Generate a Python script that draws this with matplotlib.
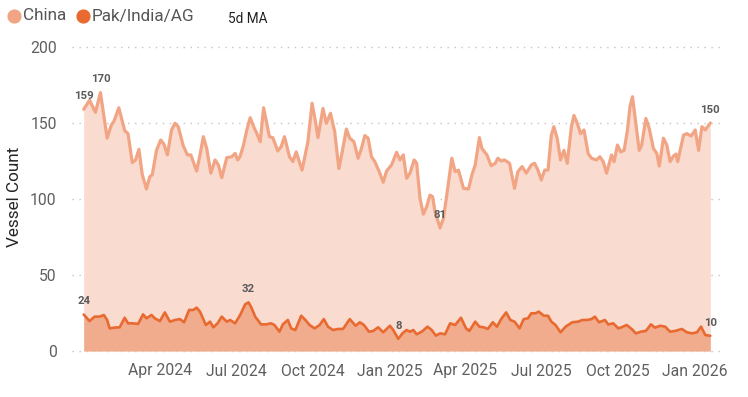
import matplotlib
matplotlib.use("Agg")
import matplotlib.pyplot as plt
from matplotlib.lines import Line2D
import pandas as pd
import numpy as np

plt.rcParams['font.family'] = ['Roboto', 'DejaVu Sans']

start_date = "2024-01-01"

china_days = [0, 7, 14, 20, 28, 33, 36, 42, 49, 53, 58, 62, 66, 70, 75, 79, 82, 87, 92, 96,
              100, 105, 109, 113, 119, 124, 128, 135, 139, 143, 147, 152, 157, 161, 165, 171,
              177, 181, 184, 187, 191, 195, 199, 204, 206, 211, 215, 222, 226, 232, 236, 240,
              246, 250, 254, 261, 268, 273, 277, 280, 286, 290, 295, 300, 305, 309, 314, 318,
              323, 328, 332, 336, 340, 344, 348, 354, 358, 362, 368, 374, 378, 382, 386, 390,
              395, 398, 402, 406, 410, 414, 417, 420, 426, 430, 434, 440, 444, 448, 454, 460,
              464, 468, 473, 476, 482, 487, 492, 495, 499, 503, 509, 515, 519, 524, 529, 535,
              539, 543, 547, 551, 555, 559, 562, 566, 570, 574, 578, 583, 586, 590, 594, 598,
              603, 607, 613, 617, 621, 625, 631, 634, 638, 642, 646, 650, 653, 656, 659, 664,
              667, 672, 676, 681, 685, 688, 693, 697, 701, 705, 708, 710, 717, 721, 726, 731,
              735, 739, 743, 749]
china_vals = [159, 165, 157, 170, 140, 148.7, 151, 160, 145, 143, 124, 125.7, 132.7, 116, 106.6,
              114.7, 116, 132, 138.8, 136, 129, 145.4, 149.8, 147.6, 135, 129, 129, 118.4, 129,
              141, 133.3, 117, 125.7, 122.4, 114, 127.2, 127.8, 130, 125.7, 128, 135.5, 145.4,
              153.5, 146.5, 144.3, 137.7, 160, 141, 140.4, 131.6, 134.4, 141, 127.8, 124.6, 131,
              119, 137.7, 163, 151, 140.4, 159.6, 149.8, 156.4, 144.3, 120, 131, 146, 140, 137.7,
              126.8, 133.3, 141.7, 140, 127.8, 124.6, 117, 111, 118.4, 122.4, 130.7, 125.7, 129,
              113.6, 117, 125.7, 123.5, 100.4, 90, 95, 102.6, 101.5, 91.6, 81, 87.3, 102.6, 126.8,
              118, 119, 107, 106.6, 115.8, 122.4, 140.4, 133.3, 129, 121.9, 123.5, 126.8, 125,
              125.7, 123.5, 107, 118, 121.3, 117, 122.4, 123.5, 119, 112.5, 119, 119, 142, 147.6,
              140, 125.7, 132, 123.5, 147.6, 155, 149.8, 143, 145.4, 130, 126.8, 125.7, 127.8,
              124.6, 117, 129, 124.6, 135.5, 131, 132, 145.4, 160.7, 167.3, 154, 132, 135.5, 153,
              146.5, 133.3, 130, 121.7, 140, 135.5, 124.6, 128.3, 129.6, 124.6, 142, 143, 141.4,
              145.4, 132, 147.6, 145.4, 150]

pak_days = [0, 7, 13, 19, 24, 28, 31, 37, 43, 49, 53, 59, 65, 71, 75, 81, 85, 91, 97, 103,
            109, 115, 120, 126, 131, 135, 139, 146, 151, 155, 160, 165, 171, 175, 181, 187, 193,
            197, 200, 205, 212, 218, 224, 228, 234, 238, 244, 248, 253, 260, 265, 270, 276, 282,
            287, 292, 298, 304, 310, 318, 325, 330, 335, 341, 346, 352, 358, 366, 370, 376, 381,
            386, 390, 394, 398, 404, 411, 416, 421, 426, 432, 438, 444, 451, 457, 461, 468, 473,
            478, 483, 489, 494, 499, 505, 510, 515, 521, 526, 531, 535, 540, 544, 550, 555, 559,
            564, 570, 576, 584, 591, 596, 602, 607, 611, 616, 623, 627, 633, 639, 643, 649, 655,
            660, 666, 672, 678, 683, 689, 695, 701, 707, 715, 721, 727, 733, 738, 743, 749]
pak_vals = [24, 19.7, 22.6, 22.6, 23.7, 20.4, 14.9, 15.4, 15.6, 21.9, 18.2, 18.2, 17.8, 24.1,
            21.5, 23.7, 21.5, 19.7, 25.4, 19.3, 20.4, 21, 18.9, 27, 27, 28.5, 25.9, 17.1, 19.3,
            15.6, 18.2, 22.6, 19.3, 20.4, 18.2, 23.7, 30.7, 32, 29.1, 22.6, 17.5, 17.5, 18.2,
            17.1, 12.7, 17.5, 20.4, 14.9, 13.8, 23.2, 20.4, 17.1, 14.9, 17.1, 21, 16, 13.8, 14.5,
            14.5, 21, 16.6, 18.9, 17.1, 12.7, 13.2, 15.6, 12.3, 16.6, 13.8, 8, 11.6, 13.8, 12.7,
            13.8, 11, 12.7, 16, 13.8, 10.1, 11.6, 11, 18.2, 17.1, 21.9, 14.9, 13.2, 19.3, 16,
            15.6, 14.5, 18.9, 16, 21, 25.4, 20.4, 19.3, 14.9, 21, 21.5, 24.8, 24.8, 25.9, 23.2,
            23.2, 19.3, 17.1, 12.3, 16, 18.9, 19.3, 20.4, 20.4, 21, 22.6, 18.9, 20.4, 17.5, 18.2,
            14.9, 15.6, 17.1, 14.5, 11.6, 12.7, 13.2, 17.5, 15.4, 16.6, 16, 12.7, 13.2, 14.5,
            12.3, 11.6, 12.3, 16, 10.5, 10]

series_names = ["China", "Pak/India/AG"]
y_ticks = [0, 50, 100, 150, 200]
x_tick_dates = ["2024-04-01", "2024-07-01", "2024-10-01", "2025-01-01", "2025-04-01",
                "2025-07-01", "2025-10-01", "2026-01-01"]
x_tick_labels = ["Apr 2024", "Jul 2024", "Oct 2024", "Jan 2025", "Apr 2025",
                 "Jul 2025", "Oct 2025", "Jan 2026"]

base = pd.Timestamp(start_date)
china_x = base + pd.to_timedelta(china_days, unit="D")
pak_x = base + pd.to_timedelta(pak_days, unit="D")

china_line, china_fill = "#F2A584", "#F9DBCF"
pak_line, pak_fill = "#E86A30", "#F0AC8D"
label_color = "#5a5a5a"

fig = plt.figure(figsize=(7.48, 3.97), dpi=100)
ax = fig.add_axes([72/748, 46/397, 650/748, 304/397])

ax.fill_between(china_x, 0, china_vals, color=china_fill, lw=0, zorder=1)
ax.fill_between(pak_x, 0, pak_vals, color=pak_fill, lw=0, zorder=2)
ax.plot(china_x, china_vals, color=china_line, lw=2.3, zorder=3,
        solid_joinstyle="round", solid_capstyle="round")
ax.plot(pak_x, pak_vals, color=pak_line, lw=1.9, zorder=4,
        solid_joinstyle="round", solid_capstyle="round")

def label_points(xs, vals):
    vals = np.asarray(vals)
    idxs = {0, len(vals) - 1, int(np.argmax(vals)), int(np.argmin(vals))}
    for i in idxs:
        ax.annotate(f"{vals[i]:.0f}", (xs[i], vals[i]), xytext=(0, 9.5),
                    textcoords="offset points", ha="center", va="center",
                    fontsize=8.2, fontweight="bold", color=label_color, zorder=6)

label_points(china_x, china_vals)
label_points(pak_x, pak_vals)

ax.set_ylim(0, 200)
ax.set_xlim(base + pd.Timedelta(days=-14), base + pd.Timedelta(days=763))
ax.set_yticks(y_ticks)
ax.set_yticklabels([str(v) for v in y_ticks])
ax.set_xticks(pd.to_datetime(x_tick_dates))
ax.set_xticklabels(x_tick_labels)
ax.tick_params(axis="x", length=0, labelsize=11.3, labelcolor="#5f5f5f", pad=9)
ax.tick_params(axis="y", length=0, labelsize=11.3, labelcolor="#5f5f5f", pad=11)
for s in ax.spines.values():
    s.set_visible(False)
ax.grid(axis="y", linestyle=(0, (1, 4)), color="#c4c4c4", lw=1)
ax.set_axisbelow(True)
for gl in ax.get_ygridlines():
    gl.set_clip_on(False)

fig.text(15/748, 1 - 197/397, "Vessel Count", rotation=90, fontsize=12.3,
         color="#252525", ha="center", va="center")

# legend
fig.add_artist(Line2D([13.7/748], [1 - 15.5/397], marker="o", markersize=9.2, lw=0,
                      color=china_line, transform=fig.transFigure))
fig.text(23/748, 1 - 16/397, series_names[0], fontsize=12.3, color="#555555",
         va="center", ha="left")
fig.add_artist(Line2D([83/748], [1 - 15.5/397], marker="o", markersize=9.2, lw=0,
                      color=pak_line, transform=fig.transFigure))
fig.text(92/748, 1 - 16/397, series_names[1], fontsize=12.3, color="#555555",
         va="center", ha="left")
fig.text(228/748, 1 - 19/397, "5d MA", fontsize=9.8, color="#222222", va="center", ha="left")

fig.savefig("out.png", dpi=100)
